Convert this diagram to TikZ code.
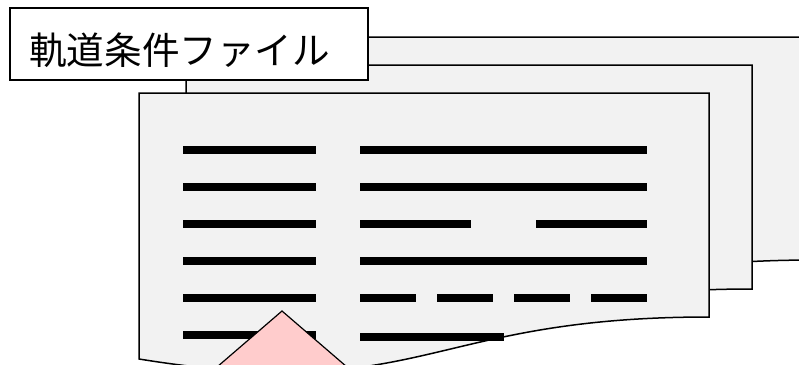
\documentclass[tikz,border=0pt]{standalone}
\usepackage{fontspec}
\newfontfamily\cjkfont{Noto Sans CJK JP}
\definecolor{docfill}{HTML}{F2F2F2}
\definecolor{arrowpink}{HTML}{FFCCCC}
\tikzset{
  docshape/.style={draw=black, fill=docfill, line width=1.5pt, line join=miter},
  textbar/.style={fill=black, draw=none},
  labelbox/.style={draw=black, fill=white, line width=1.2pt, minimum width=358pt, minimum height=72pt, inner sep=0pt},
  labeltext/.style={font=\cjkfont\fontsize{37.6}{40}\selectfont, inner sep=0pt, anchor=base west},
  pinkarrow/.style={draw=black, fill=arrowpink, line width=1.2pt, line join=miter}
}
\begin{document}
\begin{tikzpicture}[x=1pt, y=-1pt]
\useasboundingbox (0,0) rectangle (799,364);
\clip (0,0) rectangle (799,364);
% back document
\draw[docshape] (233,37) -- (815,37) -- (815,260)
  .. controls (524,260) and (524,348) .. (233,302) -- cycle;
% middle document
\draw[docshape] (186,65) -- (752,65) -- (752,289)
  .. controls (469,289) and (469,377) .. (186,331) -- cycle;
% front document
\draw[docshape] (139,93) -- (709,93) -- (709,317)
  .. controls (424,317) and (424,405) .. (139,359) -- cycle;
% text bars, left column
\foreach \y in {150,187,224,261,298,335} {
  \fill[textbar] (183,\y-4) rectangle (316,\y+4);
}
% right column
\fill[textbar] (360,146) rectangle (647,154);
\fill[textbar] (360,183) rectangle (647,191);
\fill[textbar] (360,220) rectangle (471,228);
\fill[textbar] (536,220) rectangle (647,228);
\fill[textbar] (360,257) rectangle (647,265);
\fill[textbar] (360,294) rectangle (416,302);
\fill[textbar] (437,294) rectangle (493,302);
\fill[textbar] (514,294) rectangle (570,302);
\fill[textbar] (591,294) rectangle (647,302);
\fill[textbar] (360,333) rectangle (504,341);
% label
\node[labelbox] (label) at (189,44) {};
\node[labeltext] (labeltxt) at (29,64.5) {軌道条件ファイル};
% pink arrow head
\coordinate (apex) at (282,311);
\draw[pinkarrow] (apex) -- (408.5,420) -- (155.5,420) -- cycle;
\end{tikzpicture}
\end{document}
